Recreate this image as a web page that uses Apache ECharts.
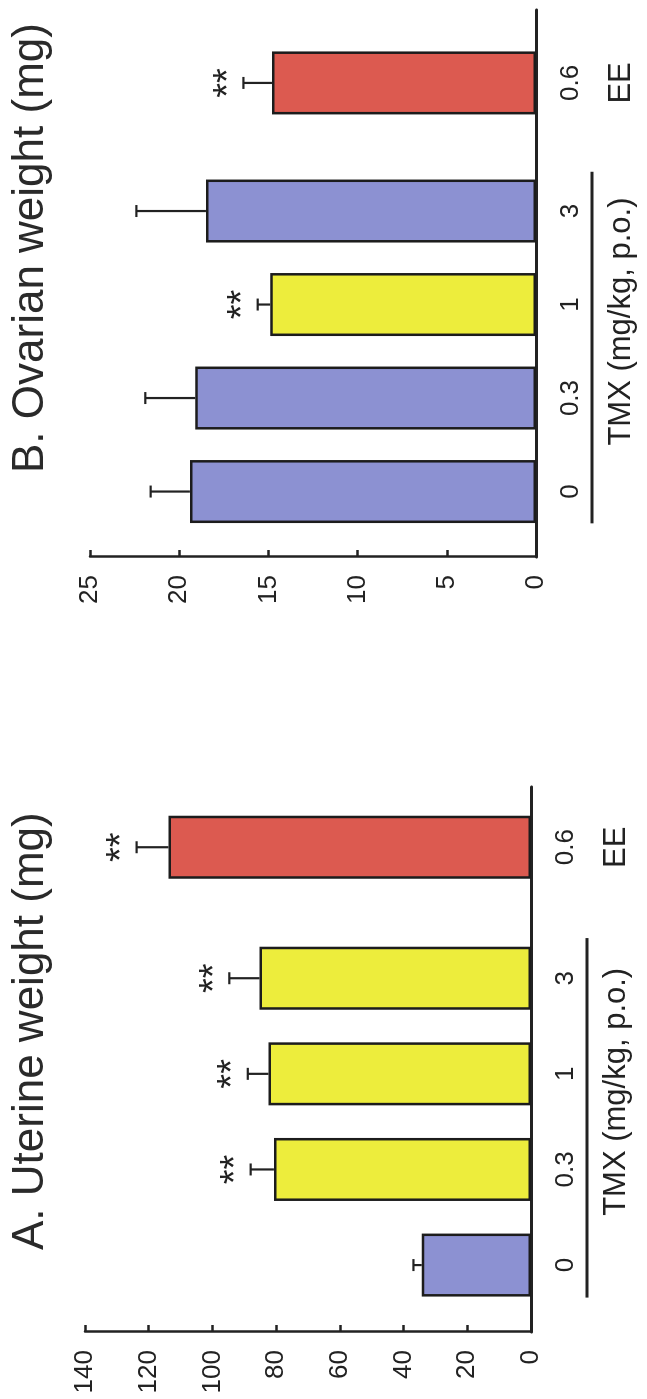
<!DOCTYPE html>
<html>
<head>
<meta charset="utf-8">
<script src="https://cdn.jsdelivr.net/npm/echarts@6/dist/echarts.min.js"></script>
<style>
html,body{margin:0;padding:0;background:#fff;width:647px;height:1399px;overflow:hidden;}
#chart{position:absolute;left:0;top:0;width:1399px;height:647px;transform-origin:0 0;transform:translateY(1399px) rotate(-90deg);}
</style>
</head>
<body>
<div id="chart"></div>
<script>
// ---- data ----
const categories = ['0', '0.3', '1', '3', '0.6'];
const groups = ['TMX', 'TMX', 'TMX', 'TMX', 'EE'];
const groupLabels = ['TMX (mg/kg, p.o.)', 'EE'];
const uterineMean = [34.3, 80.7, 82.4, 85.2, 113.8];
const uterineErr = [2.6, 7.3, 6.5, 9.5, 10.0];
const uterineSig = ['', '**', '**', '**', '**'];
const ovarianMean = [19.4, 19.1, 14.9, 18.5, 14.8];
const ovarianErr = [2.2, 2.8, 0.7, 3.9, 1.6];
const ovarianSig = ['', '', '**', '', '**'];
const uterineTicks = { min: 0, max: 140, interval: 20 };
const ovarianTicks = { min: 0, max: 25, interval: 5 };
const titles = ['A. Uterine weight (mg)', 'B. Ovarian weight (mg)'];

// ---- layout / style ----
const FONT = "'Liberation Sans', Arial, Helvetica, sans-serif";
const INK = '#222';
const EE_GAP = 0.37;
const pos = categories.map((c, i) => i + (groups[i] === 'EE' ? EE_GAP : 0));
const tmxIdx = groups.map((g, i) => g === 'TMX' ? i : -1).filter(i => i >= 0);
const eeIdx = groups.indexOf('EE');

function barColor(i, sig) {
  if (groups[i] === 'EE') return '#dc5a50';
  return sig[i] ? '#eded3c' : '#8c91d2';
}

const chart = echarts.init(document.getElementById('chart'), null, { renderer: 'canvas', width: 1399, height: 647 });

const panels = [
  { grid: { left: 67, top: 85, width: 545, height: 446 }, xmin: -0.7, xmax: 5.0, ticks: uterineTicks, mean: uterineMean, err: uterineErr, sig: uterineSig, titleX: 149 },
  { grid: { left: 842, top: 90, width: 547, height: 446 }, xmin: -0.7, xmax: 5.15, ticks: ovarianTicks, mean: ovarianMean, err: ovarianErr, sig: ovarianSig, titleX: 926 }
];

const grid = [], xAxis = [], yAxis = [], series = [], graphic = [];

panels.forEach((p, gi) => {
  grid.push(Object.assign({ containLabel: false }, p.grid));
  xAxis.push({
    type: 'value', gridIndex: gi, min: p.xmin, max: p.xmax,
    axisLine: { show: true, onZero: false, lineStyle: { color: INK, width: 3 } },
    axisTick: { show: false }, axisLabel: { show: false }, splitLine: { show: false }
  });
  yAxis.push({
    type: 'value', gridIndex: gi, min: p.ticks.min, max: p.ticks.max, interval: p.ticks.interval,
    axisLine: { show: true, onZero: false, lineStyle: { color: INK, width: 2.5 } },
    axisTick: { show: true, inside: true, length: 7, lineStyle: { color: INK, width: 2.5 } },
    axisLabel: { fontSize: 26, fontFamily: FONT, color: INK, margin: 18 },
    splitLine: { show: false }
  });
  // bars
  series.push({
    type: 'bar', xAxisIndex: gi, yAxisIndex: gi, barWidth: 63,
    data: p.mean.map((m, i) => ({ value: [pos[i], m], itemStyle: { color: barColor(i, p.sig) } })),
    itemStyle: { borderColor: '#1c1c1c', borderWidth: 2.5 },
    label: { show: true, position: 'bottom', distance: 22, formatter: (q) => categories[q.dataIndex], fontSize: 26, fontFamily: FONT, color: INK },
    animation: false
  });
  // error bars + significance marks
  const sig = p.sig;
  series.push({
    type: 'custom', xAxisIndex: gi, yAxisIndex: gi, clip: false, z: 3,
    data: p.mean.map((m, i) => [pos[i], m, m + p.err[i], i]),
    encode: { x: 0, y: [1, 2] },
    renderItem: (params, api) => {
      const x = api.value(0), lo = api.value(1), hi = api.value(2), i = api.value(3);
      const a = api.coord([x, lo]), b = api.coord([x, hi]);
      const cap = 6;
      const ch = [
        { type: 'line', shape: { x1: a[0], y1: a[1], x2: b[0], y2: b[1] }, style: { stroke: INK, lineWidth: 2.2 } },
        { type: 'line', shape: { x1: b[0] - cap, y1: b[1], x2: b[0] + cap, y2: b[1] }, style: { stroke: INK, lineWidth: 2.2 } }
      ];
      if (sig[i]) ch.push({ type: 'text', style: { text: sig[i], x: b[0], y: b[1] - 14, align: 'center', verticalAlign: 'middle', font: '38px ' + FONT, fill: INK } });
      return { type: 'group', children: ch };
    },
    animation: false
  });
  // group labels
  series.push({
    type: 'custom', xAxisIndex: gi, yAxisIndex: gi, clip: false,
    data: [[pos[tmxIdx[0]] - 0.34, 0, pos[tmxIdx[tmxIdx.length - 1]] + 0.42, 0], [pos[eeIdx], 0, pos[eeIdx], 1]],
    encode: { x: [0, 2], y: 1 },
    renderItem: (params, api) => {
      const a = api.coord([api.value(0), 0]), b = api.coord([api.value(2), 0]);
      const k = api.value(3);
      const ch = [];
      let cx = (a[0] + b[0]) / 2;
      if (b[0] - a[0] > 1) {
        ch.push({ type: 'line', shape: { x1: a[0], y1: a[1] + 56, x2: b[0], y2: a[1] + 56 }, style: { stroke: INK, lineWidth: 3 } });
        cx += 26;
      }
      ch.push({ type: 'text', style: { text: groupLabels[k], x: cx, y: a[1] + 85, align: 'center', verticalAlign: 'middle', font: '31px ' + FONT, fill: INK } });
      return { type: 'group', children: ch };
    },
    animation: false
  });
  graphic.push({ type: 'text', x: p.titleX, y: 31, style: { text: titles[gi], font: '44px ' + FONT, fill: '#2a2a2a', verticalAlign: 'middle', align: 'left' } });
});

chart.setOption({ animation: false, backgroundColor: '#fff', grid, xAxis, yAxis, series, graphic });
</script>
</body>
</html>
